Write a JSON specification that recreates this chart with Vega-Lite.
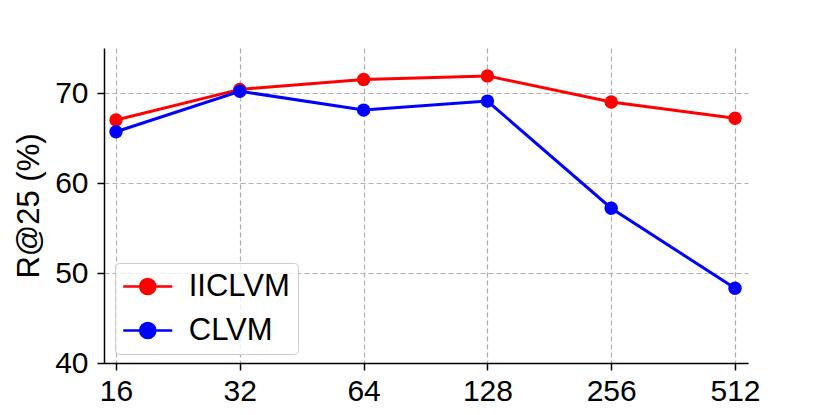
{
  "$schema": "https://vega.github.io/schema/vega-lite/v6.json",
  "width": 644,
  "height": 315,
  "autosize": "none",
  "padding": {"left": 104, "top": 48, "right": 82, "bottom": 52},
  "background": "white",
  "data": {
    "values": [
      {"size": 16, "method": "IICLVM", "value": 67.0},
      {"size": 32, "method": "IICLVM", "value": 70.4},
      {"size": 64, "method": "IICLVM", "value": 71.5},
      {"size": 128, "method": "IICLVM", "value": 71.9},
      {"size": 256, "method": "IICLVM", "value": 69.0},
      {"size": 512, "method": "IICLVM", "value": 67.2},
      {"size": 16, "method": "CLVM", "value": 65.7},
      {"size": 32, "method": "CLVM", "value": 70.2},
      {"size": 64, "method": "CLVM", "value": 68.1},
      {"size": 128, "method": "CLVM", "value": 69.1},
      {"size": 256, "method": "CLVM", "value": 57.2},
      {"size": 512, "method": "CLVM", "value": 48.3}
    ]
  },
  "encoding": {
    "x": {
      "field": "size",
      "type": "quantitative",
      "scale": {"type": "log", "base": 2, "domain": [14.96, 550.6], "nice": false},
      "axis": {
        "values": [16, 32, 64, 128, 256, 512],
        "format": "d",
        "title": null,
        "grid": true,
        "labelPadding": 6
      }
    },
    "y": {
      "field": "value",
      "type": "quantitative",
      "scale": {"domain": [40, 75], "nice": false, "zero": false},
      "axis": {
        "values": [40, 50, 60, 70],
        "title": "R@25 (%)",
        "grid": true,
        "labelPadding": 9,
        "titlePadding": 9
      }
    },
    "color": {
      "field": "method",
      "type": "nominal",
      "sort": ["IICLVM", "CLVM"],
      "scale": {"domain": ["IICLVM", "CLVM"], "range": ["#ff0000", "#0000ff"]},
      "legend": {
        "orient": "none",
        "legendX": 11,
        "legendY": 215,
        "title": null,
        "symbolType": "M -2.45 0 H 2.45 M 0.75 0 A 0.75 0.75 0 1 1 -0.75 0 A 0.75 0.75 0 1 1 0.75 0",
        "symbolSize": 400,
        "symbolStrokeWidth": 2.7,
        "symbolOffset": 9.25,
        "labelFontSize": 31,
        "labelFont": "Liberation Sans",
        "labelColor": "black",
        "labelOffset": 25.5,
        "padding": 8,
        "rowPadding": 12,
        "fillColor": "rgba(255,255,255,0.8)",
        "strokeColor": "#cccccc",
        "cornerRadius": 4,
        "encode": {
          "symbols": {
            "update": {
              "fill": {"scale": "color", "field": "value"},
              "stroke": {"scale": "color", "field": "value"},
              "opacity": {"value": 1}
            }
          }
        }
      }
    }
  },
  "layer": [
    {"mark": {"type": "line", "strokeWidth": 3}},
    {"mark": {"type": "point", "filled": true, "size": 180, "opacity": 1}}
  ],
  "config": {
    "view": {"stroke": null},
    "axis": {
      "domainColor": "black",
      "domainWidth": 1.5,
      "tickColor": "black",
      "tickWidth": 1.5,
      "tickSize": 7,
      "labelFont": "Liberation Sans",
      "labelFontSize": 30,
      "labelColor": "black",
      "gridColor": "#b0b0b0",
      "gridDash": [5, 3],
      "gridWidth": 1.2,
      "titleFont": "Liberation Sans",
      "titleFontSize": 31,
      "titleFontWeight": "normal",
      "titleColor": "black"
    }
  }
}
